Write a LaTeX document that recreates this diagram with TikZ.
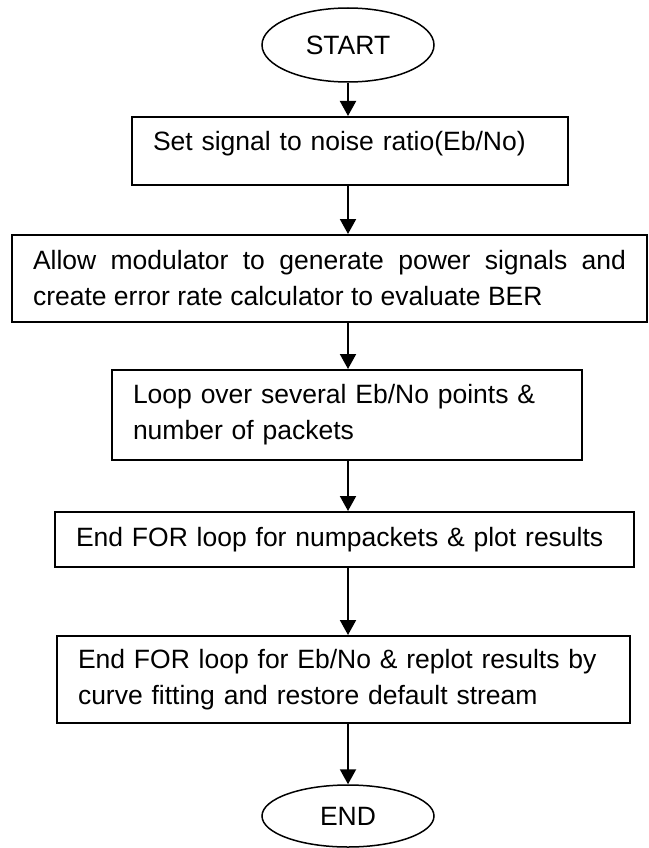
\documentclass[tikz,border=0pt]{standalone}
\usepackage{fontspec}
\setmainfont{Liberation Sans}
\usepackage{tikz}
\usetikzlibrary{shapes.geometric, arrows.meta, positioning}

\begin{document}
\begin{tikzpicture}[
        x=1pt, y=-1pt,
        font=\fontsize{26.5}{36}\selectfont,
        term/.style={ellipse, draw, line width=1.5pt, inner sep=0pt, minimum width=172pt, minimum height=74pt},
        box/.style={rectangle, draw, line width=2pt, inner xsep=21pt, inner ysep=0pt, align=left},
        arrow/.style={-{Triangle[length=15pt,width=16pt]}, line width=2pt}
    ]
        \useasboundingbox (0,0) rectangle (648,848);
        \node[term] (start) at (348,45) {START};
        \node[box, text width=394pt, minimum height=68pt, text depth=20pt] (snr) at (350,151) {Set signal to noise ratio(Eb/No)};
        \node[box, text width=593pt, minimum height=87pt, align=justify] (mod) at (329.5,278.5) {Allow modulator to generate power signals and\linebreak create error rate calculator to evaluate BER};
        \node[box, text width=428pt, minimum height=90pt] (loop) at (347,415) {Loop over several Eb/No points \&\\number of packets};
        \node[box, text width=537pt, minimum height=55pt] (endpk) at (344.5,539.5) {End FOR loop for numpackets \& plot results};
        \node[box, text width=531pt, minimum height=87pt] (endeb) at (343.5,679.5) {End FOR loop for Eb/No \& replot results by\\curve fitting and restore default stream};
        \node[term, minimum height=62pt] (end) at (348,816) {END};
        \draw[arrow] (start.south) -- (start.south |- snr.north);
        \draw[arrow] (start.south |- snr.south) -- (start.south |- mod.north);
        \draw[arrow] (start.south |- mod.south) -- (start.south |- loop.north);
        \draw[arrow] (start.south |- loop.south) -- (start.south |- endpk.north);
        \draw[arrow] (start.south |- endpk.south) -- (start.south |- endeb.north);
        \draw[arrow] (start.south |- endeb.south) -- (end.north);
    \end{tikzpicture}
\end{document}
